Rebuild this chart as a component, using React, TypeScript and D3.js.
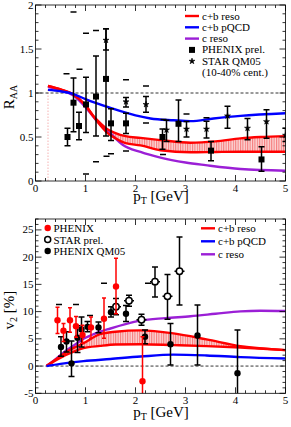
import React from "react";
import * as d3 from "d3";

// ---- data: R_AA panel ----
const ptTicks = [0, 1, 2, 3, 4, 5];
const raaTicks = [0, 0.5, 1, 1.5, 2];
const v2Ticks = [-5, 0, 5, 10, 15, 20, 25];

// [pT, lower, upper]
const raaResoBand = [
  [0.25, 1.08, 1.08], [0.5, 1.04, 1.04], [0.75, 0.985, 0.985], [1.0, 0.86, 0.86],
  [1.15, 0.74, 0.745], [1.3, 0.63, 0.655], [1.42, 0.555, 0.595], [1.6, 0.485, 0.545],
  [1.8, 0.43, 0.51], [2.1, 0.405, 0.49], [2.5, 0.35, 0.465], [3.1, 0.326, 0.435],
  [3.6, 0.33, 0.45], [4.1, 0.333, 0.485], [4.5, 0.333, 0.5], [5.0, 0.333, 0.51],
];
const raaPqcd = [
  [0.25, 1.035], [0.5, 1.02], [0.75, 0.99], [1.0, 0.93], [1.5, 0.83], [2.0, 0.745],
  [2.3, 0.71], [2.76, 0.69], [3.1, 0.68], [3.56, 0.71], [4.1, 0.74], [5.0, 0.77],
];
const raaCharm = [
  [0.25, 1.07], [0.5, 1.03], [0.75, 0.975], [1.0, 0.84], [1.2, 0.7], [1.5, 0.54],
  [1.75, 0.41], [2.1, 0.33], [2.5, 0.265], [3.0, 0.21], [3.4, 0.18], [4.1, 0.136], [5.0, 0.117],
];
// [pT, RAA, low, high]
const phenixPrel = [
  [0.64, 0.5, 0.4, 0.6], [0.76, 0.89, 0.56, 1.17], [0.87, 0.625, 0.47, 0.78],
  [1.01, 0.87, 0.55, 1.18], [1.21, 0.96, 0.51, 1.42], [1.41, 1.16, 0.51, 1.73],
  [1.51, 0.655, 0.46, 0.82], [1.81, 0.655, 0.54, 0.77], [2.54, 0.5, 0.36, 0.59],
  [2.86, 0.65, 0.45, 0.92], [3.51, 0.345, 0.23, 0.45], [4.52, 0.245, 0.11, 0.39],
];
const starQM05 = [
  [1.41, 1.6, 1.49, 1.73], [1.81, 0.9, 0.84, 0.95], [2.21, 0.87, 0.78, 0.96],
  [2.62, 0.58, 0.45, 0.69], [3.02, 0.59, 0.5, 0.675], [3.42, 0.59, 0.49, 0.68],
  [3.84, 0.74, 0.6, 0.85], [4.24, 0.6, 0.47, 0.71], [4.62, 0.675, 0.485, 0.81],
  [5.0, 0.52, 0.45, 0.6],
];
// systematic error marks [pT, RAA]
const raaSys = [
  [0.62, 1.22], [0.76, 1.92], [0.88, 1.27], [1.01, 1.68], [1.01, 0.08], [1.21, 1.71],
  [1.21, 0.22], [1.42, 0.28], [1.51, 0.31], [1.81, 1.15], [1.81, 0.34], [2.21, 1.08],
  [2.21, 0.66], [2.56, 0.7], [2.55, 0.3], [3.02, 0.76], [3.42, 0.72],
];

// ---- data: v2 panel ----
const v2ResoBand = [
  [0.22, 0, 0], [0.42, 1.1, 1.3], [0.62, 2.1, 2.6], [0.8, 2.8, 3.5], [0.96, 3.3, 4.2],
  [1.29, 3.7, 5.85], [1.6, 3.95, 6.3], [2.1, 4.0, 6.55], [2.76, 3.84, 6.0],
  [3.42, 3.66, 4.9], [4.1, 3.41, 3.66], [5.0, 2.93, 2.93],
];
const v2Pqcd = [
  [0.22, 0], [0.5, 0.4], [0.96, 0.91], [1.5, 1.3], [2.1, 1.75], [2.76, 2.1],
  [3.42, 1.95], [4.1, 1.65], [5.0, 1.4],
];
const v2Charm = [
  [0.22, 0], [0.42, 1.4], [0.62, 2.9], [0.8, 4.0], [0.96, 5.0], [1.2, 6.0], [1.5, 6.9],
  [1.8, 7.7], [2.1, 8.35], [2.6, 8.8], [3.1, 9.15], [3.6, 9.6], [4.1, 10.05], [4.5, 10.15], [5.0, 10.1],
];
// [pT, v2, low, high]
const phenixV2 = [
  [0.44, 8.4, 6.0, 10.8], [0.56, 6.5, 4.5, 7.8], [0.69, 8.4, 6.2, 10.7], [0.81, 7.3, 5.3, 9.1],
  [0.94, 5.7, 4.2, 7.5], [1.11, 7.1, 5.1, 9.0], [1.37, 8.7, 5.1, 12.5], [1.61, 14.6, 9.6, 19.8],
  [2.14, -2.8, -6, 5.4],
];
const starV2 = [
  [1.61, 10.9, 9.4, 12.4], [1.87, 12.0, 11.0, 13.0], [2.12, 8.5, 7.5, 9.5],
  [2.39, 15.5, 12.7, 18.2], [2.64, 12.8, 8.6, 16.8], [2.88, 17.4, 11.2, 23.7],
];
const qm05V2 = [
  [0.51, 3.5, 1.8, 5.4], [0.62, 4.5, 2.6, 6.3], [0.72, 0.5, -1.9, 4.6], [0.84, 5.2, 2.5, 7.4],
  [0.92, 6.7, 3.5, 9.0], [1.04, 7.2, 6.3, 8.2], [1.26, 7.1, 6.1, 8.1], [1.51, 9.9, 9.0, 10.9],
  [1.81, 9.6, 8.2, 11.1], [2.19, 5.4, 4.1, 6.6], [2.7, 4.0, 0.2, 7.8], [3.24, 5.6, 0.2, 11.2],
  [4.04, -1.3, -6, 6.6],
];
const v2Sys = [[0.47, 11.3], [0.81, 11.3], [1.09, 9.3], [1.37, 15.2], [2.25, 15.2]];

const LEFT = 35.5;
const RIGHT = 285.5;
const FONT = "'Liberation Serif', 'Times New Roman', serif";
const RED = "#ff0000";
const BLUE = "#0000ff";
const PURPLE = "#9b1fd6";

function Frame({ x, y, top, bottom, yTicks, yMinor, fmt }) {
  const xMinor = d3.range(0, 5.0001, 0.2);
  const [y0, y1] = y.domain();
  const yMin = d3.range(y0, y1 + 1e-6, yMinor);
  const isMajor = (v, arr) => arr.some((t) => Math.abs(t - v) < 1e-6);
  return (
    <g stroke="#000" strokeWidth={0.8}>
      <rect x={LEFT} y={top} width={RIGHT - LEFT} height={bottom - top} fill="none" />
      {xMinor.map((v, i) => {
        const len = isMajor(v, ptTicks) ? 6 : 3;
        const px = x(v);
        return (
          <g key={"x" + i}>
            <line x1={px} x2={px} y1={bottom} y2={bottom - len} />
            <line x1={px} x2={px} y1={top} y2={top + len} />
          </g>
        );
      })}
      {yMin.map((v, i) => {
        const len = isMajor(v, yTicks) ? 6 : 3;
        const py = y(v);
        return (
          <g key={"y" + i}>
            <line x1={LEFT} x2={LEFT + len} y1={py} y2={py} />
            <line x1={RIGHT} x2={RIGHT - len} y1={py} y2={py} />
          </g>
        );
      })}
      <g stroke="none" fill="#000" fontFamily={FONT} fontSize={11}>
        {ptTicks.map((t) => (
          <text key={"xl" + t} x={x(t)} y={bottom + 10.5} textAnchor="middle">{t}</text>
        ))}
        {yTicks.map((t) => (
          <text key={"yl" + t} x={LEFT - 2} y={y(t) + 3.5} textAnchor="end">{fmt(t)}</text>
        ))}
      </g>
    </g>
  );
}

function ErrBar({ x, y, lo, hi, color = "#000", cap = 3 }) {
  return (
    <g stroke={color} strokeWidth={1.5}>
      <line x1={x} x2={x} y1={y(lo)} y2={y(hi)} />
      <line x1={x - cap} x2={x + cap} y1={y(lo)} y2={y(lo)} />
      <line x1={x - cap} x2={x + cap} y1={y(hi)} y2={y(hi)} />
    </g>
  );
}

export default function App() {
  const x = d3.scaleLinear().domain([0, 5]).range([LEFT, RIGHT]);
  const yR = d3.scaleLinear().domain([0, 2]).range([181, 5]);
  const yV = d3.scaleLinear().domain([-5, 27]).range([393.3, 219]);

  const mk = (y) => ({
    line: d3.line().x((d) => x(d[0])).y((d) => y(d[1])).curve(d3.curveMonotoneX),
    hi: d3.line().x((d) => x(d[0])).y((d) => y(d[2])).curve(d3.curveMonotoneX),
    area: d3.area().x((d) => x(d[0])).y0((d) => y(d[1])).y1((d) => y(d[2])).curve(d3.curveMonotoneX),
  });
  const gR = mk(yR);
  const gV = mk(yV);
  const star = d3.symbol(d3.symbolStar, 11)();

  const legTop = ["c+b reso", "c+b pQCD", "c reso", "PHENIX prel.", "STAR QM05", "(10-40% cent.)"];
  const legBotL = ["PHENIX", "STAR prel.", "PHENIX QM05"];
  const legBotR = [["c+b reso", RED], ["c+b pQCD", BLUE], ["c reso", PURPLE]];

  return (
    <svg width={291} height={427} style={{ position: "absolute", left: 0, top: 0, background: "#fff" }}>
      <defs>
        <pattern id="hatch" patternUnits="userSpaceOnUse" width={2.4} height={4}>
          <rect width={2.4} height={4} fill="#fcd6d6" />
          <line x1={0.6} x2={0.6} y1={0} y2={4} stroke="#f05050" strokeWidth={0.8} />
        </pattern>
        <clipPath id="clipTop"><rect x={LEFT} y={5} width={RIGHT - LEFT} height={176} /></clipPath>
        <clipPath id="clipBot"><rect x={LEFT} y={219} width={RIGHT - LEFT} height={174.3} /></clipPath>
      </defs>

      {/* ---- top panel ---- */}
      <g clipPath="url(#clipTop)">
        <line x1={x(0.25)} x2={x(0.25)} y1={yR(0)} y2={yR(1.08)} stroke="#f4a0a0" strokeWidth={0.8} strokeDasharray="1.5,1.5" />
        <line x1={LEFT} x2={RIGHT} y1={yR(1)} y2={yR(1)} stroke="#000" strokeWidth={0.8} strokeDasharray="3,2" />
        <path d={gR.area(raaResoBand)} fill="url(#hatch)" />
        <path d={gR.line(raaCharm)} fill="none" stroke={PURPLE} strokeWidth={2.4} />
        <path d={gR.line(raaResoBand)} fill="none" stroke={RED} strokeWidth={2.4} />
        <path d={gR.hi(raaResoBand)} fill="none" stroke={RED} strokeWidth={2.4} />
        <path d={gR.line(raaPqcd)} fill="none" stroke={BLUE} strokeWidth={2.4} />
        {raaSys.map((d, i) => (
          <line key={"rs" + i} x1={x(d[0]) - 3} x2={x(d[0]) + 3} y1={yR(d[1])} y2={yR(d[1])} stroke="#000" strokeWidth={1.5} />
        ))}
        {phenixPrel.map((d, i) => (
          <g key={"pp" + i}>
            <ErrBar x={x(d[0])} y={yR} lo={d[2]} hi={d[3]} />
            <rect x={x(d[0]) - 3} y={yR(d[1]) - 3} width={6} height={6} fill="#000" />
          </g>
        ))}
        {starQM05.map((d, i) => (
          <g key={"sq" + i}>
            <ErrBar x={x(d[0])} y={yR} lo={d[2]} hi={d[3]} />
            <path d={star} transform={`translate(${x(d[0])},${yR(d[1])})`} fill="#000" stroke="#000" strokeWidth={0.6} />
          </g>
        ))}
      </g>
      <Frame x={x} top={5} bottom={181} y={yR} yTicks={raaTicks} yMinor={0.1} fmt={(t) => String(t)} />

      <g fontFamily={FONT} fontSize={11} fill="#000">
        {legTop.map((t, i) => (
          <text key={"lt" + i} x={202} y={19.5 + i * 11.3}>{t}</text>
        ))}
      </g>
      <line x1={185} x2={199} y1={16} y2={16} stroke={RED} strokeWidth={2.4} />
      <line x1={185} x2={199} y1={27.3} y2={27.3} stroke={BLUE} strokeWidth={2.4} />
      <line x1={185} x2={199} y1={38.6} y2={38.6} stroke={PURPLE} strokeWidth={2.4} />
      <rect x={189} y={46.9} width={6} height={6} fill="#000" />
      <path d={star} transform="translate(192,61.2)" fill="#000" stroke="#000" strokeWidth={0.6} />

      <text transform="translate(14,97) rotate(-90)" textAnchor="middle" fontFamily={FONT} fontSize={15}>
        R<tspan dy={3} fontSize={10}>AA</tspan>
      </text>
      <text x={161} y={201} textAnchor="middle" fontFamily={FONT} fontSize={15}>
        p<tspan dy={3} fontSize={10}>T</tspan><tspan dy={-3}> [GeV]</tspan>
      </text>

      {/* ---- bottom panel ---- */}
      <g clipPath="url(#clipBot)">
        <line x1={LEFT} x2={RIGHT} y1={yV(0)} y2={yV(0)} stroke="#000" strokeWidth={0.8} strokeDasharray="3,2" />
        <path d={gV.area(v2ResoBand)} fill="url(#hatch)" />
        <path d={gV.line(v2Charm)} fill="none" stroke={PURPLE} strokeWidth={2.4} />
        <path d={gV.line(v2ResoBand)} fill="none" stroke={RED} strokeWidth={2.4} />
        <path d={gV.hi(v2ResoBand)} fill="none" stroke={RED} strokeWidth={2.4} />
        <path d={gV.line(v2Pqcd)} fill="none" stroke={BLUE} strokeWidth={2.4} />
        {v2Sys.map((d, i) => (
          <line key={"vs" + i} x1={x(d[0]) - 3} x2={x(d[0]) + 3} y1={yV(d[1])} y2={yV(d[1])} stroke="#000" strokeWidth={1.5} />
        ))}
        {qm05V2.map((d, i) => (
          <g key={"qm" + i}>
            <ErrBar x={x(d[0])} y={yV} lo={d[2]} hi={d[3]} />
            <circle cx={x(d[0])} cy={yV(d[1])} r={3.2} fill="#000" />
          </g>
        ))}
        {starV2.map((d, i) => (
          <g key={"sv" + i}>
            <ErrBar x={x(d[0])} y={yV} lo={d[2]} hi={d[3]} />
            <line x1={x(d[0] - 0.1)} x2={x(d[0] + 0.1)} y1={yV(d[1])} y2={yV(d[1])} stroke="#000" strokeWidth={1.5} />
            <circle cx={x(d[0])} cy={yV(d[1])} r={3.2} fill="#fff" stroke="#000" strokeWidth={1.5} />
          </g>
        ))}
        {phenixV2.map((d, i) => (
          <g key={"pv" + i}>
            <ErrBar x={x(d[0])} y={yV} lo={d[2]} hi={d[3]} color={RED} cap={2} />
            <circle cx={x(d[0])} cy={yV(d[1])} r={3.2} fill={RED} />
          </g>
        ))}
      </g>
      <Frame x={x} top={219} bottom={393.3} y={yV} yTicks={v2Ticks} yMinor={1} fmt={(t) => String(t)} />

      <g fontFamily={FONT} fontSize={11} fill="#000">
        {legBotL.map((t, i) => (
          <text key={"lbl" + i} x={53.5} y={232 + i * 11.5}>{t}</text>
        ))}
        {legBotR.map((t, i) => (
          <text key={"lbr" + i} x={218} y={232 + i * 13}>{t[0]}</text>
        ))}
      </g>
      <circle cx={47.7} cy={228} r={3.2} fill={RED} />
      <circle cx={47.7} cy={239.5} r={3} fill="#fff" stroke="#000" strokeWidth={1.5} />
      <circle cx={47.7} cy={251} r={3.2} fill="#000" />
      {legBotR.map((t, i) => (
        <line key={"lbrl" + i} x1={201} x2={215} y1={228.3 + i * 13} y2={228.3 + i * 13} stroke={t[1]} strokeWidth={2.4} />
      ))}

      <text transform="translate(14,310) rotate(-90)" textAnchor="middle" fontFamily={FONT} fontSize={15}>
        v<tspan dy={3} fontSize={10}>2</tspan><tspan dy={-3}> [%]</tspan>
      </text>
      <text x={161} y={417} textAnchor="middle" fontFamily={FONT} fontSize={15}>
        p<tspan dy={3} fontSize={10}>T</tspan><tspan dy={-3}> [GeV]</tspan>
      </text>
    </svg>
  );
}
